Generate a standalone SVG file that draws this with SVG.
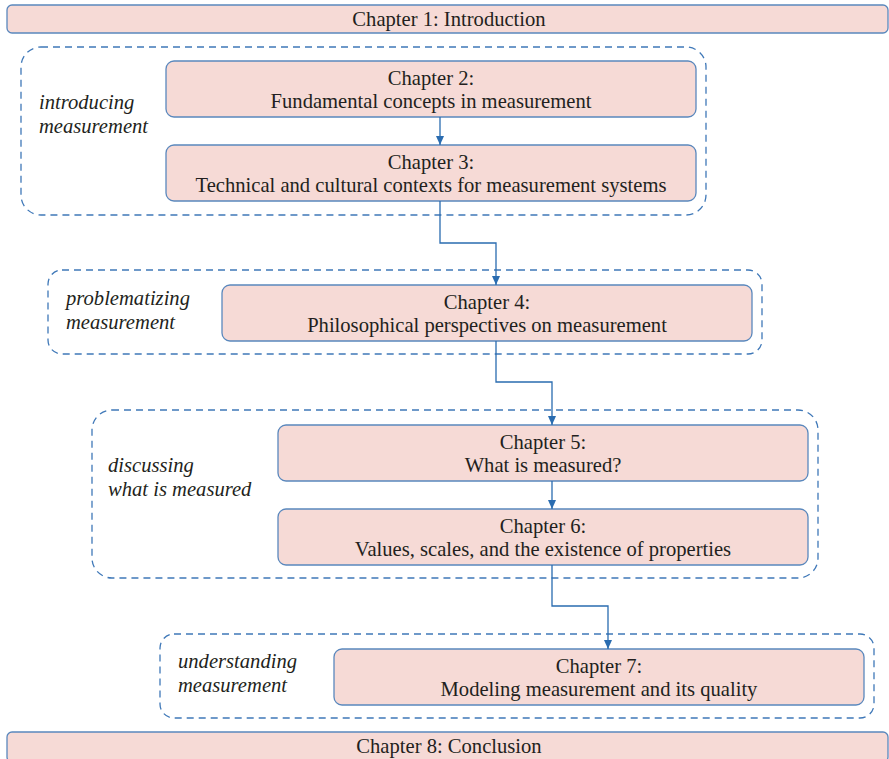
<svg xmlns="http://www.w3.org/2000/svg" width="889" height="759" viewBox="0 0 889 759">
<style>
.box{fill:#f6dad6;stroke:#5a88bd;stroke-width:1.3}
.grp{fill:none;stroke:#3f78b8;stroke-width:1.3;stroke-dasharray:7,5}
.t{font-family:'Liberation Serif';font-size:20.6px;fill:#231f20;text-anchor:middle}
.i{font-family:'Liberation Serif';font-size:20.6px;fill:#231f20;font-style:italic}
.c{fill:none;stroke:#2a6cb0;stroke-width:1.3}
</style>
<defs>
<marker id="ah" markerWidth="10" markerHeight="10" refX="9" refY="5" orient="auto" markerUnits="userSpaceOnUse">
<path d="M0,1 L9,5 L0,9 Z" fill="#2a6cb0"/>
</marker>
</defs>
<g id="groups">
<rect class="grp" x="21" y="47" width="685" height="168" rx="20"/>
<rect class="grp" x="48" y="270" width="714" height="84" rx="14"/>
<rect class="grp" x="92" y="410" width="726" height="168" rx="20"/>
<rect class="grp" x="160" y="634" width="714" height="84" rx="14"/>
</g>
<g id="labels">
<text class="i" font-family="Liberation Serif" x="39" y="109">introducing</text>
<text class="i" font-family="Liberation Serif" x="39" y="133">measurement</text>
<text class="i" font-family="Liberation Serif" x="66" y="305">problematizing</text>
<text class="i" font-family="Liberation Serif" x="66" y="329">measurement</text>
<text class="i" font-family="Liberation Serif" x="108" y="472">discussing</text>
<text class="i" font-family="Liberation Serif" x="108" y="496">what is measured</text>
<text class="i" font-family="Liberation Serif" x="178" y="668">understanding</text>
<text class="i" font-family="Liberation Serif" x="178" y="692">measurement</text>
</g>
<g id="ch1"><rect class="box" x="7" y="5" width="881" height="28" rx="5"/><text class="t" font-family="Liberation Serif" x="449" y="26">Chapter 1: Introduction</text></g>
<g id="ch2"><rect class="box" x="166" y="61" width="530" height="56" rx="8"/><text class="t" font-family="Liberation Serif" x="431" y="85">Chapter 2:</text><text class="t" font-family="Liberation Serif" x="431" y="108">Fundamental concepts in measurement</text></g>
<g id="ch3"><rect class="box" x="166" y="145" width="530" height="56" rx="8"/><text class="t" font-family="Liberation Serif" x="431" y="169">Chapter 3:</text><text class="t" font-family="Liberation Serif" x="431" y="192">Technical and cultural contexts for measurement systems</text></g>
<g id="ch4"><rect class="box" x="222" y="285" width="530" height="56" rx="8"/><text class="t" font-family="Liberation Serif" x="487" y="309">Chapter 4:</text><text class="t" font-family="Liberation Serif" x="487" y="332">Philosophical perspectives on measurement</text></g>
<g id="ch5"><rect class="box" x="278" y="425" width="530" height="56" rx="8"/><text class="t" font-family="Liberation Serif" x="543" y="449">Chapter 5:</text><text class="t" font-family="Liberation Serif" x="543" y="472">What is measured?</text></g>
<g id="ch6"><rect class="box" x="278" y="509" width="530" height="56" rx="8"/><text class="t" font-family="Liberation Serif" x="543" y="533">Chapter 6:</text><text class="t" font-family="Liberation Serif" x="543" y="556">Values, scales, and the existence of properties</text></g>
<g id="ch7"><rect class="box" x="334" y="649" width="530" height="56" rx="8"/><text class="t" font-family="Liberation Serif" x="599" y="673">Chapter 7:</text><text class="t" font-family="Liberation Serif" x="599" y="696">Modeling measurement and its quality</text></g>
<g id="ch8"><rect class="box" x="7" y="732" width="881" height="30" rx="5"/><text class="t" font-family="Liberation Serif" x="449" y="753">Chapter 8: Conclusion</text></g>
<g id="connectors">
<path class="c" d="M440,117 V145" marker-end="url(#ah)"/>
<path class="c" d="M440,201 V243 H496 V285" marker-end="url(#ah)"/>
<path class="c" d="M496,341 V382 H552 V425" marker-end="url(#ah)"/>
<path class="c" d="M552,481 V509" marker-end="url(#ah)"/>
<path class="c" d="M552,565 V606 H608 V649" marker-end="url(#ah)"/>
</g>
</svg>
